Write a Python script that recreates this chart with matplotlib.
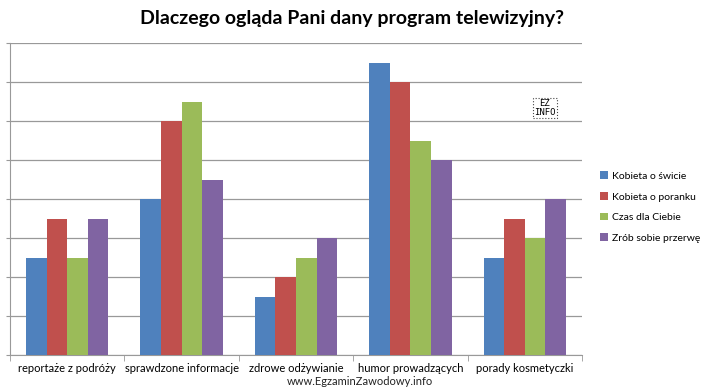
import numpy as np
import matplotlib.pyplot as plt

# dane
kategorie = ["reportaże z podróży", "sprawdzone informacje", "zdrowe odżywianie",
             "humor prowadzących", "porady kosmetyczki"]
serie = ["Kobieta o świcie", "Kobieta o poranku", "Czas dla Ciebie", "Zrób sobie przerwę"]
kobieta_o_swicie = [2.5, 4, 1.5, 7.5, 2.5]
kobieta_o_poranku = [3.5, 6, 2, 7, 3.5]
czas_dla_ciebie = [2.5, 6.5, 2.5, 5.5, 3]
zrob_sobie_przerwe = [3.5, 4.5, 3, 5, 4]
kolory = ["#4F81BD", "#C0504D", "#9BBB59", "#8064A2"]

plt.rcParams['font.family'] = ['Lato', 'DejaVu Sans']

fig = plt.figure(figsize=(7.05, 3.87), dpi=100)
ax = fig.add_axes([10/705, 32/387, 572/705, 312/387])

x = np.arange(len(kategorie))
w = 0.18
wartosci = [kobieta_o_swicie, kobieta_o_poranku, czas_dla_ciebie, zrob_sobie_przerwe]
for i, (nazwa, v) in enumerate(zip(serie, wartosci)):
    ax.bar(x + (i - 1.5) * w, v, w, color=kolory[i], label=nazwa, zorder=3)

ax.set_xlim(-0.5, len(kategorie) - 0.5)
ax.set_ylim(0, 8)
ax.set_yticks(np.arange(0, 9, 1))
ax.set_yticklabels([])
ax.yaxis.grid(True, color="#999999", linewidth=0.9)
ax.tick_params(axis='y', length=3, color="#999999", direction='out')

ax.set_xticks(x)
ax.set_xticklabels(kategorie, fontsize=8)
ax.set_xticks(np.arange(-0.5, len(kategorie)), minor=True)
ax.tick_params(axis='x', which='major', length=0, pad=6)
ax.tick_params(axis='x', which='minor', length=4, color="#999999")

for s in ["top", "right"]:
    ax.spines[s].set_visible(False)
for s in ["left", "bottom"]:
    ax.spines[s].set_color("#999999")

fig.text(0.5, 0.953, "Dlaczego ogląda Pani dany program telewizyjny?",
         ha='center', va='center', fontsize=14, fontweight='bold')

fig.legend(loc='center left', bbox_to_anchor=(0.838, 0.465), frameon=False,
           fontsize=7.5, handlelength=0.8, handleheight=0.8, handletextpad=0.3,
           labelspacing=1.05)

fig.text(0.51, 0.0, "www.EgzaminZawodowy.info", ha='center', va='bottom',
         fontsize=8, color="#222222")
fig.text(545/705, 1 - 108/387, "EZ\nINFO", ha='center', va='center', fontsize=6.5,
         linespacing=0.9, family='DejaVu Sans Mono',
         bbox=dict(boxstyle='square,pad=0.15', fc='white', ec='#444444', ls=':', lw=0.8))

fig.savefig("out.png", dpi=100)
